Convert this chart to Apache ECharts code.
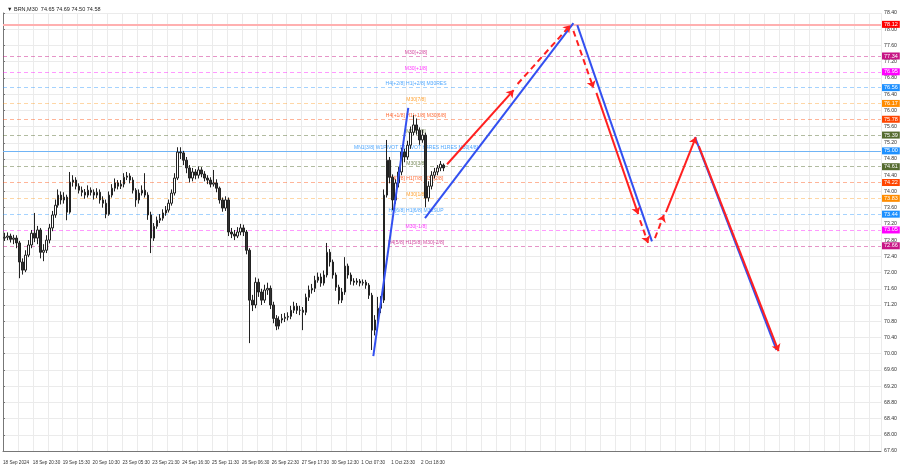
<!DOCTYPE html>
<html><head><meta charset="utf-8">
<script src="https://cdn.jsdelivr.net/npm/echarts@6/dist/echarts.min.js"></script>
<style>html,body{margin:0;padding:0;background:#fff}#c{width:900px;height:468px}</style>
</head><body><div id="c"></div>
<script>
const timeLabels = ['18 Sep 2024','18 Sep 20:30','19 Sep 15:30','20 Sep 10:30','23 Sep 05:30','23 Sep 21:30','24 Sep 16:30','25 Sep 11:30','26 Sep 06:30','26 Sep 22:30','27 Sep 17:30','30 Sep 12:30','1 Oct 07:30','1 Oct 23:30','2 Oct 18:30'];

const opens = [72.85,72.87,72.90,72.82,72.85,72.73,72.26,72.06,72.43,72.68,72.97,72.85,73.05,72.50,72.55,72.80,73.10,73.42,73.66,73.91,73.79,73.86,73.49,74.23,74.28,74.13,74.03,73.98,73.91,74.03,73.98,73.91,73.98,73.79,73.71,73.44,73.91,74.08,74.21,74.13,74.18,74.35,74.38,74.28,74.03,73.79,73.96,74.03,73.91,73.42,72.85,73.14,73.29,73.34,73.47,73.54,73.71,73.96,74.33,74.97,74.95,74.77,74.58,74.33,74.48,74.40,74.53,74.43,74.33,74.28,74.18,74.21,74.08,73.79,73.59,73.79,73.00,72.95,72.90,73.00,73.10,73.00,72.55,71.32,71.20,71.76,71.52,71.32,71.57,71.61,71.20,70.87,70.68,70.83,70.87,70.90,70.92,71.07,71.17,71.07,71.07,71.02,71.39,71.57,71.61,71.81,71.89,71.74,71.94,72.50,72.26,71.94,71.64,71.32,71.52,72.16,71.94,71.79,71.76,71.79,71.74,71.76,71.69,71.44,70.58,70.83,71.12,71.32,73.91,74.77,74.35,73.79,74.21,74.48,74.97,74.85,75.14,75.46,75.64,75.51,75.27,75.39,73.84,74.13,74.40,74.48,74.58,74.65];
const closes = [72.87,72.90,72.82,72.85,72.73,72.26,72.06,72.43,72.68,72.97,72.85,73.05,72.50,72.55,72.80,73.10,73.42,73.66,73.91,73.79,73.86,73.49,74.23,74.28,74.13,74.03,73.98,73.91,74.03,73.98,73.91,73.98,73.79,73.71,73.44,73.91,74.08,74.21,74.13,74.18,74.35,74.38,74.28,74.03,73.79,73.96,74.03,73.91,73.42,72.85,73.14,73.29,73.34,73.47,73.54,73.71,73.96,74.33,74.97,74.95,74.77,74.58,74.33,74.48,74.40,74.53,74.43,74.33,74.28,74.18,74.21,74.08,73.79,73.59,73.79,73.00,72.95,72.90,73.00,73.10,73.00,72.55,71.32,71.20,71.76,71.52,71.32,71.57,71.61,71.20,70.87,70.68,70.83,70.87,70.90,70.92,71.07,71.17,71.07,71.07,71.02,71.39,71.57,71.61,71.81,71.89,71.74,71.94,72.50,72.26,71.94,71.64,71.32,71.52,72.16,71.94,71.79,71.76,71.79,71.74,71.76,71.69,71.44,70.58,70.83,71.12,71.32,73.91,74.77,74.35,73.79,74.21,74.48,74.97,74.85,75.14,75.46,75.64,75.51,75.27,75.39,73.84,74.13,74.40,74.48,74.58,74.67,74.58];
const highs = [72.98,72.99,72.96,72.93,72.92,72.78,72.35,72.55,72.80,73.05,73.47,73.15,73.10,72.70,72.92,73.20,73.52,73.80,74.05,74.00,73.98,73.92,74.48,74.40,74.35,74.20,74.12,74.06,74.15,74.10,74.05,74.08,74.05,73.88,73.80,74.00,74.18,74.32,74.28,74.28,74.45,74.48,74.45,74.35,74.08,74.05,74.15,74.45,73.98,73.50,73.22,73.38,73.44,73.56,73.64,73.80,74.05,74.45,75.09,75.09,75.00,74.85,74.65,74.58,74.55,74.62,74.60,74.50,74.40,74.35,74.53,74.30,74.12,73.85,73.88,73.85,73.10,73.05,73.12,73.20,73.18,73.05,72.60,71.45,71.88,71.85,71.60,71.70,71.75,71.68,71.28,70.95,70.92,70.98,71.00,71.02,71.18,71.28,71.25,71.18,71.15,71.48,71.68,71.72,71.92,72.00,71.98,72.05,72.73,72.58,72.32,72.00,71.70,71.62,72.38,72.22,72.00,71.86,71.86,71.84,71.83,71.82,71.74,71.50,70.95,71.40,71.42,74.05,75.27,74.85,74.42,74.30,74.60,75.08,75.05,75.25,75.60,75.88,75.80,75.58,75.52,75.45,74.25,74.50,74.58,74.65,74.75,74.69];
const lows = [72.78,72.80,72.74,72.70,72.60,71.86,71.95,72.01,72.38,72.60,72.75,72.70,72.35,72.28,72.48,72.72,73.02,73.35,73.60,73.68,73.70,73.29,73.45,74.12,74.05,73.95,73.88,73.82,73.85,73.90,73.80,73.84,73.70,73.60,73.34,73.40,73.85,74.00,74.05,74.06,74.10,74.28,74.20,73.95,73.62,73.70,73.90,73.85,73.30,72.48,72.78,73.08,73.22,73.28,73.40,73.48,73.65,73.90,74.28,74.80,74.65,74.45,74.22,74.25,74.30,74.32,74.35,74.25,74.18,74.10,74.12,73.98,73.70,73.50,73.52,72.90,72.85,72.80,72.85,72.92,72.90,72.45,70.26,71.05,71.12,71.40,71.20,71.25,71.45,71.10,70.75,70.58,70.60,70.75,70.78,70.82,70.85,71.00,70.98,70.95,70.58,70.95,71.30,71.48,71.52,71.75,71.65,71.68,71.88,72.15,71.85,71.55,71.22,71.25,71.45,71.85,71.70,71.68,71.70,71.66,71.68,71.60,71.35,70.09,70.45,70.75,71.00,71.25,73.85,74.20,73.54,73.70,74.10,74.40,74.72,74.78,75.05,75.38,75.40,75.15,75.20,73.61,73.75,74.05,74.32,74.40,74.50,74.50];

const levelPrices = [78.12,77.34,76.95,76.56,76.17,75.78,75.39,75.00,74.61,74.22,73.83,73.44,73.05,72.66];
const levelNames = ['','M30[+2/8]','M30[+1/8]','H4[+2/8] H1[+2/8] M30RES','M30[7/8]','H4[+1/8] H1[+1/8] M30[6/8]','M30[5/8]','MN1[3/8] W1PIVOT D1PIVOT H4RES H1RES M30[4/8]','M30[3/8]','H4[7/8] H1[7/8] M30[2/8]','M30[1/8]','H4[6/8] H1[6/8] M30SUP','M30[-1/8]','H4[5/8] H1[5/8] M30[-2/8]'];

const blueStart = [[124,69.94],[141.3,73.34],[192.3,78.10],[231.7,75.34]];
const blueEnd = [[135.7,76.06],[191,78.15],[217.3,72.77],[259,70.09]];
const redStart = [[148.7,74.67],[172.3,76.65],[191,77.96],[198.7,76.43],[213.3,73.29],[218.3,72.85],[222,73.49],[233,75.12]];
const redEnd = [[171,76.50],[190,78.10],[197.7,76.55],[212.7,73.44],[216,72.73],[221.3,73.42],[232,75.34],[259.7,70.06]];

// styles
const redDashed = [false,true,true,false,true,true,false,false];
const levelColors = ['#ff0000','#c71585','#ff00ff','#1e90ff','#ff8c00','#ff4500','#556b2f','#1e90ff','#556b2f','#ff4500','#ff8c00','#1e90ff','#ff00ff','#c71585'];
const levelLineColors = ['#ffb0b0','rgba(199,21,133,0.45)','rgba(255,0,255,0.4)','rgba(30,144,255,0.4)','rgba(255,140,0,0.35)','rgba(255,69,0,0.4)','rgba(85,107,47,0.45)','#70b4f5','rgba(85,107,47,0.45)','rgba(255,69,0,0.4)','rgba(255,140,0,0.35)','rgba(30,144,255,0.4)','rgba(255,0,255,0.4)','rgba(199,21,133,0.45)'];
const LABEL_X = 138.3;
const SLOTS = 294;
const FONT = 'Liberation Sans, Arial, sans-serif';

const cats = [];
for (let i = 0; i < SLOTS; i++) cats.push(String(i));
const candleData = closes.map((c, i) => [opens[i], c, lows[i], highs[i]]);

const markLines = levelPrices.map((p, i) => {
  const solid = (i === 0 || i === 7);
  return {
    yAxis: p,
    lineStyle: {color: levelLineColors[i], width: i === 0 ? 2 : 1, type: solid ? 'solid' : [4,3]},
    label: {show:true, position:'end', distance:1, formatter: p.toFixed(2),
      backgroundColor: levelColors[i], color:'#fff', fontSize:5.5, fontFamily:FONT,
      padding:[1,2,0,2]}
  };
});

const nameData = [];
levelPrices.forEach((p, i) => {
  if (levelNames[i]) nameData.push({value:[LABEL_X, p], name: levelNames[i],
    label:{color: levelColors[i]}});
});

const blueLines = blueStart.map((s, i) => ({coords:[s, blueEnd[i]]}));
const redLines = redStart.map((s, i) => ({coords:[s, redEnd[i]],
  lineStyle:{type: redDashed[i] ? [6,4] : 'solid'}}));

const chart = echarts.init(document.getElementById('c'), null, {renderer:'canvas'});
chart.setOption({
  animation: false,
  backgroundColor: '#ffffff',
  title: {text:'\u25BC BRN,M30  74.65 74.69 74.50 74.58', left:2, top:1,
    textStyle:{fontSize:5.5, fontWeight:'normal', color:'#222', fontFamily:FONT}},
  grid: {left:0, right:18, top:13, bottom:17, containLabel:false},
  xAxis: [
    {type:'category', data:cats, show:false, boundaryGap:true},
    {type:'value', min:0, max:SLOTS, interval:5, position:'bottom',
      axisLine:{show:true, lineStyle:{color:'#777'}},
      axisTick:{show:false},
      splitLine:{show:true, lineStyle:{color:'#ebebeb', width:1}},
      axisLabel:{show:true, fontSize:4.6, color:'#333', fontFamily:FONT, align:'left', margin:9,
        showMinLabel:true, showMaxLabel:false, hideOverlap:false,
        formatter: v => (Math.round(v) % 10 === 0 ? (timeLabels[Math.round(v)/10] || '') : '')}}
  ],
  yAxis: {type:'value', position:'right', min:67.6, max:78.4, interval:0.4, scale:true,
    axisLine:{show:true, lineStyle:{color:'#777'}},
    axisTick:{show:true, length:2, lineStyle:{color:'#777'}},
    splitLine:{show:true, lineStyle:{color:'#ebebeb', width:1}},
    axisLabel:{fontSize:5.2, color:'#333', fontFamily:FONT, margin:3, formatter: v => v.toFixed(2)}},
  series: [
    {type:'scatter', xAxisIndex:1, yAxisIndex:0, symbolSize:0, data:nameData, z:3,
      label:{show:true, position:'top', distance:1, fontSize:5, fontFamily:FONT, formatter: p => p.name},
      markLine:{silent:true, symbol:'none', data:markLines, z:2}},
    {type:'candlestick', xAxisIndex:0, yAxisIndex:0, data:candleData, barWidth:2, z:4,
      itemStyle:{color:'#ffffff', color0:'#333333', borderColor:'#222222', borderColor0:'#222222', borderWidth:1}},
    {type:'lines', coordinateSystem:'cartesian2d', xAxisIndex:1, yAxisIndex:0, z:6,
      symbol:'none', lineStyle:{color:'#3350f0', width:2, opacity:1}, data:blueLines},
    {type:'lines', coordinateSystem:'cartesian2d', xAxisIndex:1, yAxisIndex:0, z:7,
      symbol:['none','arrow'], symbolSize:7, lineStyle:{color:'#ff2020', width:2, opacity:1}, data:redLines}
  ]
});
</script></body></html>
